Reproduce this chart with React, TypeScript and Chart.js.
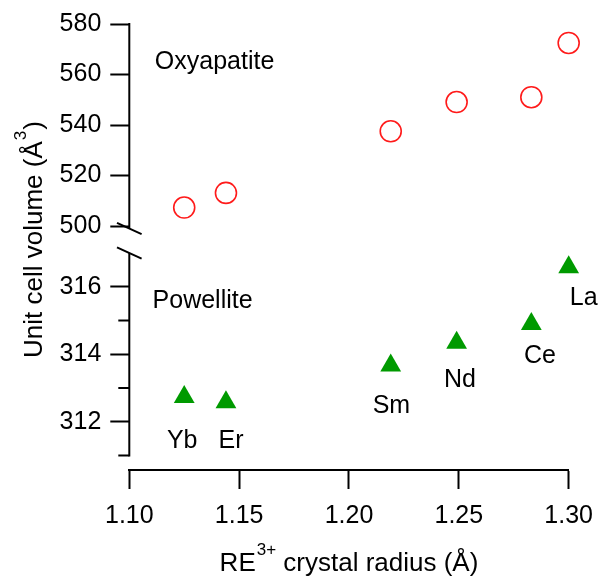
import React, { useEffect, useRef } from 'react';
import { Chart, registerables } from 'chart.js';

Chart.register(...registerables);

// ---- data ----
const elements = ['Yb', 'Er', 'Sm', 'Nd', 'Ce', 'La'];
const crystalRadius = [1.125, 1.144, 1.219, 1.249, 1.283, 1.3];
const oxyapatiteVolume = [507.3, 513.1, 537.5, 549.1, 551.0, 572.5];
const powelliteVolume = [312.73, 312.58, 313.67, 314.34, 314.9, 316.58];

const xTicks = [1.1, 1.15, 1.2, 1.25, 1.3];
const topTicks = [500, 520, 540, 560, 580];
const bottomTicks = [312, 314, 316];
const bottomMinorTicks = [311, 313, 315];

const xRange = [1.1, 1.3];
const topRange = [494.06, 580];
const bottomRange = [310.57, 317.356];
const topAxisEnd = 499; // break on upper segment
const bottomAxisStart = 317; // break on lower segment
const bottomAxisEnd = 311;

const phaseNames = ['Oxyapatite', 'Powellite'];
const phaseLabelX = [1.1116, 1.1106];
const phaseLabelY = [562.2, 315.37];

// label placement relative to each triangle (px)
const labelDx = [-2, 5, 0.7, 3.3, 8.7, 15];
const labelDy = [51, 46, 48, 44.3, 39.6, 38];

const FONT = '"Liberation Sans", Arial, Helvetica, sans-serif';
const INK = '#000000';

const overlayPlugin = {
  id: 'overlay',
  afterDraw(chart: any) {
    const ctx = chart.ctx;
    const { x, yTop, yBot } = chart.scales;
    const area = chart.chartArea;
    const ax = area.left;
    ctx.save();
    ctx.strokeStyle = INK;
    ctx.fillStyle = INK;
    ctx.lineWidth = 2;
    ctx.lineCap = 'butt';

    // upper axis segment
    const t0 = yTop.getPixelForValue(580) - 1;
    const t1 = yTop.getPixelForValue(topAxisEnd);
    ctx.beginPath();
    ctx.moveTo(ax, t0);
    ctx.lineTo(ax, t1);
    ctx.stroke();
    // lower axis segment
    const b0 = yBot.getPixelForValue(bottomAxisStart);
    const b1 = yBot.getPixelForValue(bottomAxisEnd) + 1;
    ctx.beginPath();
    ctx.moveTo(ax, b0);
    ctx.lineTo(ax, b1);
    ctx.stroke();
    // minor ticks
    for (const v of bottomMinorTicks) {
      const py = yBot.getPixelForValue(v);
      ctx.beginPath();
      ctx.moveTo(ax - 11, py);
      ctx.lineTo(ax, py);
      ctx.stroke();
    }
    // break slashes
    for (const py of [t1, b0]) {
      ctx.beginPath();
      ctx.moveTo(ax - 12.3, py - 5.6);
      ctx.lineTo(ax + 12.3, py + 5.6);
      ctx.stroke();
    }

    // element labels
    ctx.font = `25px ${FONT}`;
    ctx.textAlign = 'center';
    ctx.textBaseline = 'alphabetic';
    const meta = chart.getDatasetMeta(1);
    meta.data.forEach((el: any, i: number) => {
      ctx.fillText(elements[i], el.x + labelDx[i], el.y + labelDy[i]);
    });

    // phase labels
    ctx.textAlign = 'left';
    ctx.fillText(phaseNames[0], x.getPixelForValue(phaseLabelX[0]), yTop.getPixelForValue(phaseLabelY[0]));
    ctx.fillText(phaseNames[1], x.getPixelForValue(phaseLabelX[1]), yBot.getPixelForValue(phaseLabelY[1]));

    // x title with superscript
    const big = `26px ${FONT}`;
    const small = `17px ${FONT}`;
    const p1 = 'RE';
    const p2 = '3+';
    const p3 = ' crystal radius (Å)';
    ctx.font = big;
    const w1 = ctx.measureText(p1).width;
    const w3 = ctx.measureText(p3).width;
    ctx.font = small;
    const w2 = ctx.measureText(p2).width;
    const total = w1 + w2 + w3 + 1;
    let tx = (area.left + area.right) / 2 - total / 2;
    const ty = area.bottom + 100.5;
    ctx.font = big;
    ctx.fillText(p1, tx, ty);
    tx += w1 + 1;
    ctx.font = small;
    ctx.fillText(p2, tx, ty - 15.5);
    tx += w2;
    ctx.font = big;
    ctx.fillText(p3, tx, ty);

    // y title rotated with superscript
    ctx.save();
    ctx.translate(ax - 87.3, 358);
    ctx.rotate(-Math.PI / 2);
    const q1 = 'Unit cell volume (Å';
    const q2 = '3';
    const q3 = ')';
    ctx.font = big;
    ctx.fillText(q1, 0, 0);
    let qx = ctx.measureText(q1).width + 1;
    ctx.font = small;
    ctx.fillText(q2, qx, -16);
    qx += ctx.measureText(q2).width + 1;
    ctx.font = big;
    ctx.fillText(q3, qx, 0);
    ctx.restore();

    ctx.restore();
  },
};

function yScale(range: number[], ticks: number[], weight: number) {
  return {
    type: 'linear',
    position: 'left',
    stack: 'volume',
    stackWeight: weight,
    min: range[0],
    max: range[1],
    afterBuildTicks: (s: any) => {
      s.ticks = ticks.map((v) => ({ value: v }));
    },
    afterFit: (s: any) => {
      s.width = 129.3;
    },
    grid: {
      drawOnChartArea: false,
      drawTicks: true,
      tickLength: 19,
      tickWidth: 2,
      tickColor: INK,
    },
    border: { display: false },
    ticks: {
      padding: 9,
      color: INK,
      font: { size: 25, family: FONT },
      callback: (v: any) => String(v),
    },
  };
}

export default function App() {
  const ref = useRef<HTMLCanvasElement | null>(null);

  useEffect(() => {
    if (!ref.current) return;
    const chart = new Chart(ref.current, {
      type: 'scatter',
      data: {
        datasets: [
          {
            label: 'Oxyapatite',
            data: crystalRadius.map((r, i) => ({ x: r, y: oxyapatiteVolume[i] })),
            yAxisID: 'yTop',
            pointStyle: 'circle',
            pointRadius: 10.5,
            pointBackgroundColor: 'rgba(0,0,0,0)',
            pointBorderColor: '#ff1a1a',
            pointBorderWidth: 1.6,
            clip: false,
          },
          {
            label: 'Powellite',
            data: crystalRadius.map((r, i) => ({ x: r, y: powelliteVolume[i] })),
            yAxisID: 'yBot',
            pointStyle: 'triangle',
            pointRadius: 12,
            pointBackgroundColor: '#009a00',
            pointBorderColor: '#009a00',
            pointBorderWidth: 0,
            clip: false,
          },
        ],
      } as any,
      options: {
        responsive: false,
        animation: false,
        layout: { padding: { top: 24, right: 32.3, bottom: 0, left: 0 } },
        plugins: {
          legend: { display: false },
          tooltip: { enabled: false },
        },
        scales: {
          x: {
            type: 'linear',
            position: 'bottom',
            min: xRange[0],
            max: xRange[1],
            afterBuildTicks: (s: any) => {
              s.ticks = xTicks.map((v) => ({ value: v }));
            },
            afterFit: (s: any) => {
              s.height = 109;
            },
            grid: {
              drawOnChartArea: false,
              drawTicks: true,
              tickLength: 19,
              tickWidth: 2,
              tickColor: INK,
            },
            border: { display: true, color: INK, width: 2 },
            ticks: {
              padding: 12,
              color: INK,
              maxRotation: 0,
              font: { size: 25, family: FONT },
              callback: (v: any) => Number(v).toFixed(2),
            },
          },
          yBot: yScale(bottomRange, bottomTicks, 229),
          yTop: yScale(topRange, topTicks, 217),
        } as any,
      },
      plugins: [overlayPlugin],
    });
    return () => chart.destroy();
  }, []);

  return (
    <div style={{ position: 'fixed', left: 0, top: 0, width: 605, height: 579, background: '#ffffff' }}>
      <canvas ref={ref} width={605} height={579} style={{ display: 'block' }} />
    </div>
  );
}
